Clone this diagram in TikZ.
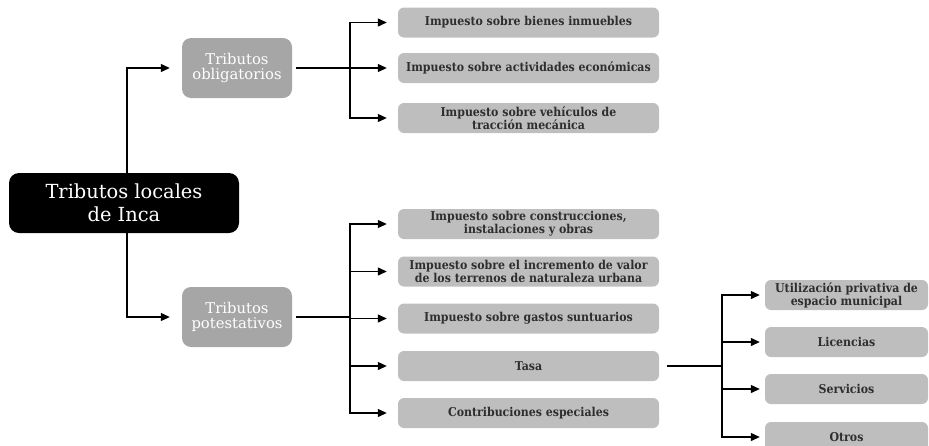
\documentclass[tikz,border=0pt]{standalone}
\usepackage{fontspec}
\setmainfont{DejaVu Serif}
\newfontfamily\leaffont{DejaVu Serif Condensed}[BoldFont={DejaVu Serif Condensed Bold}]
\usetikzlibrary{arrows.meta}
\definecolor{boxgray}{HTML}{BEBEBE}
\definecolor{midgray}{HTML}{A6A6A6}
\definecolor{txtdark}{HTML}{2E2E2E}
\begin{document}
\begin{tikzpicture}[x=1pt,y=-1pt,
  rootbox/.style={fill=black,rounded corners=10pt,minimum width=230pt,minimum height=60pt,inner sep=0pt,
     text=white,align=center,font=\fontsize{19.4}{23}\selectfont},
  midbox/.style={fill=midgray,rounded corners=9pt,minimum width=110pt,minimum height=60pt,inner sep=0pt,
     text=white,align=center,font=\fontsize{14.8}{15}\selectfont},
  leafA/.style={fill=boxgray,rounded corners=6pt,minimum width=261pt,minimum height=30pt,inner sep=0pt,
     text=txtdark,align=center,font=\leaffont\bfseries\fontsize{12.2}{11.8}\selectfont},
  leafB/.style={leafA,minimum width=163pt},
  conn/.style={line width=1.2pt,draw=black},
  arr/.style={conn,-{Triangle[length=9pt,width=8pt]}},
]
\useasboundingbox (0,0) rectangle (929,445);
\clip (0,0) rectangle (929,445);

\node[rootbox] (root) at (124,203) {Tributos locales\\de Inca};
\node[midbox] (obl) at (237,68) {Tributos\\obligatorios};
\node[midbox] (pot) at (237,317) {Tributos\\potestativos};

\node[leafA] (a1) at (528.5,22.5) {Impuesto sobre bienes inmuebles};
\node[leafA] (a2) at (528.5,68) {Impuesto sobre actividades económicas};
\node[leafA] (a3) at (528.5,118) {Impuesto sobre vehículos de\\tracción mecánica};

\node[leafA] (b1) at (528.5,224) {Impuesto sobre construcciones,\\instalaciones y obras};
\node[leafA] (b2) at (528.5,271.5) {Impuesto sobre el incremento de valor\\de los terrenos de naturaleza urbana};
\node[leafA] (b3) at (528.5,318.5) {Impuesto sobre gastos suntuarios};
\node[leafA] (b4) at (528.5,366) {Tasa};
\node[leafA] (b5) at (528.5,413) {Contribuciones especiales};

\node[leafB] (c1) at (846.5,295) {Utilización privativa de\\espacio municipal};
\node[leafB] (c2) at (846.5,342) {Licencias};
\node[leafB] (c3) at (846.5,389) {Servicios};
\node[leafB] (c4) at (846.5,437) {Otros};

\coordinate (rt) at (127,173);
\coordinate (rb) at (127,233);
\draw[arr,shorten >=12pt] (rt) |- (obl.west);
\draw[arr,shorten >=12pt] (rb) |- (pot.west);

\coordinate (j1) at (350,68);
\draw[conn] ([xshift=4pt]obl.east) -- (obl.east -| j1);
\foreach \n in {a1,a2,a3} \draw[arr,shorten >=11pt] (j1) |- (\n.west);

\coordinate (j2) at (350,317);
\draw[conn] ([xshift=4pt]pot.east) -- (pot.east -| j2);
\foreach \n in {b1,b2,b3,b4,b5} \draw[arr,shorten >=11pt] (j2) |- (\n.west);

\coordinate (j3) at (722,366);
\draw[conn] ([xshift=8pt]b4.east) -- (j3);
\foreach \n in {c1,c2,c3,c4} \draw[arr,shorten >=5pt] (j3) |- (\n.west);
\end{tikzpicture}
\end{document}
